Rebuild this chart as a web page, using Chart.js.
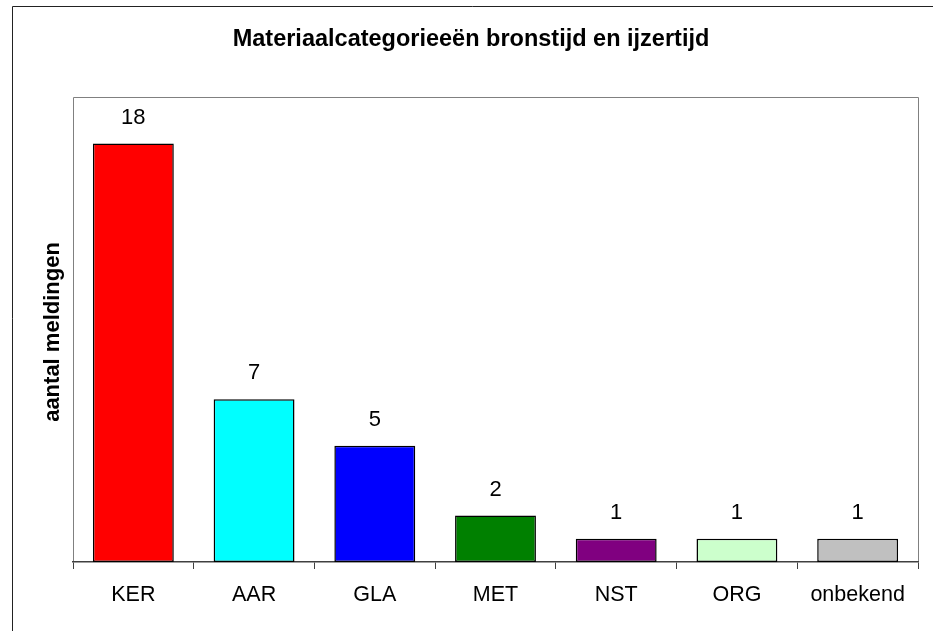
<!DOCTYPE html>
<html>
<head>
<meta charset="utf-8">
<title>Materiaalcategorieeën bronstijd en ijzertijd</title>
<script src="https://cdn.jsdelivr.net/npm/chart.js@4.4.1/dist/chart.umd.min.js"></script>
<style>
    html, body { margin: 0; padding: 0; background: #ffffff; }
    #wrap { position: relative; width: 933px; height: 631px; }
</style>
</head>
<body>
<div id="wrap"><canvas id="chart" width="933" height="631"></canvas></div>
<script>
// data
const categories = ['KER', 'AAR', 'GLA', 'MET', 'NST', 'ORG', 'onbekend'];
const meldingen = [18, 7, 5, 2, 1, 1, 1];
const barColors = ['#ff0000', '#00ffff', '#0000ff', '#008000', '#800080', '#ccffcc', '#c0c0c0'];
const yMin = 0;
const yMax = 20;

const chartTitle = 'Materiaalcategorieeën bronstijd en ijzertijd';
const yTitle = 'aantal meldingen';

const FONT = '"Liberation Sans", Arial, Helvetica, sans-serif';

// frame, titles and value labels on top of the bars
const decorations = {
    id: 'decorations',
    beforeDraw(chart) {
        const ctx = chart.ctx;
        const a = chart.chartArea;
        ctx.save();
        // outer chart border (only left and top are inside the picture)
        ctx.strokeStyle = '#222222';
        ctx.lineWidth = 1;
        ctx.beginPath();
        ctx.moveTo(12.5, chart.height);
        ctx.lineTo(12.5, 6.5);
        ctx.lineTo(chart.width, 6.5);
        ctx.stroke();
        // plot area border
        ctx.strokeStyle = '#808080';
        ctx.beginPath();
        ctx.moveTo(a.left + 0.5, a.bottom);
        ctx.lineTo(a.left + 0.5, a.top + 0.5);
        ctx.lineTo(a.right + 0.5, a.top + 0.5);
        ctx.lineTo(a.right + 0.5, a.bottom);
        ctx.stroke();
        ctx.restore();
    },
    afterDatasetsDraw(chart) {
        const ctx = chart.ctx;
        ctx.save();
        ctx.fillStyle = '#000000';
        ctx.textAlign = 'center';
        ctx.textBaseline = 'middle';

        ctx.font = 'bold 23.5px ' + FONT;
        ctx.fillText(chartTitle, 471, 40);

        ctx.save();
        ctx.translate(53, 332);
        ctx.rotate(-Math.PI / 2);
        ctx.font = 'bold 22px ' + FONT;
        ctx.fillText(yTitle, 0, 0);
        ctx.restore();

        ctx.font = '22px ' + FONT;
        const meta = chart.getDatasetMeta(0);
        meta.data.forEach((bar, i) => {
            ctx.fillText(String(meldingen[i]), bar.x, bar.y - 26);
        });
        ctx.restore();
    }
};

new Chart(document.getElementById('chart'), {
    type: 'bar',
    data: {
        labels: categories,
        datasets: [{
            data: meldingen,
            backgroundColor: barColors,
            borderColor: '#000000',
            borderWidth: 1.5,
            borderSkipped: false,
            barPercentage: 0.67,
            categoryPercentage: 1.0
        }]
    },
    options: {
        responsive: false,
        animation: false,
        devicePixelRatio: 1,
        layout: {
            padding: { left: 73, top: 97, right: 15, bottom: 0 }
        },
        plugins: {
            legend: { display: false },
            title: { display: false },
            tooltip: { enabled: false }
        },
        scales: {
            x: {
                offset: true,
                afterFit: (scale) => { scale.height = 69; },
                border: { display: true, color: '#404040', width: 1.5 },
                grid: {
                    offset: true,
                    drawOnChartArea: false,
                    drawTicks: true,
                    tickLength: 7,
                    color: '#404040',
                    lineWidth: 1
                },
                ticks: {
                    color: '#000000',
                    padding: 13,
                    maxRotation: 0,
                    autoSkip: false,
                    font: { family: FONT, size: 21.5 }
                }
            },
            y: {
                display: false,
                min: yMin,
                max: yMax
            }
        }
    },
    plugins: [decorations]
});
</script>
</body>
</html>
